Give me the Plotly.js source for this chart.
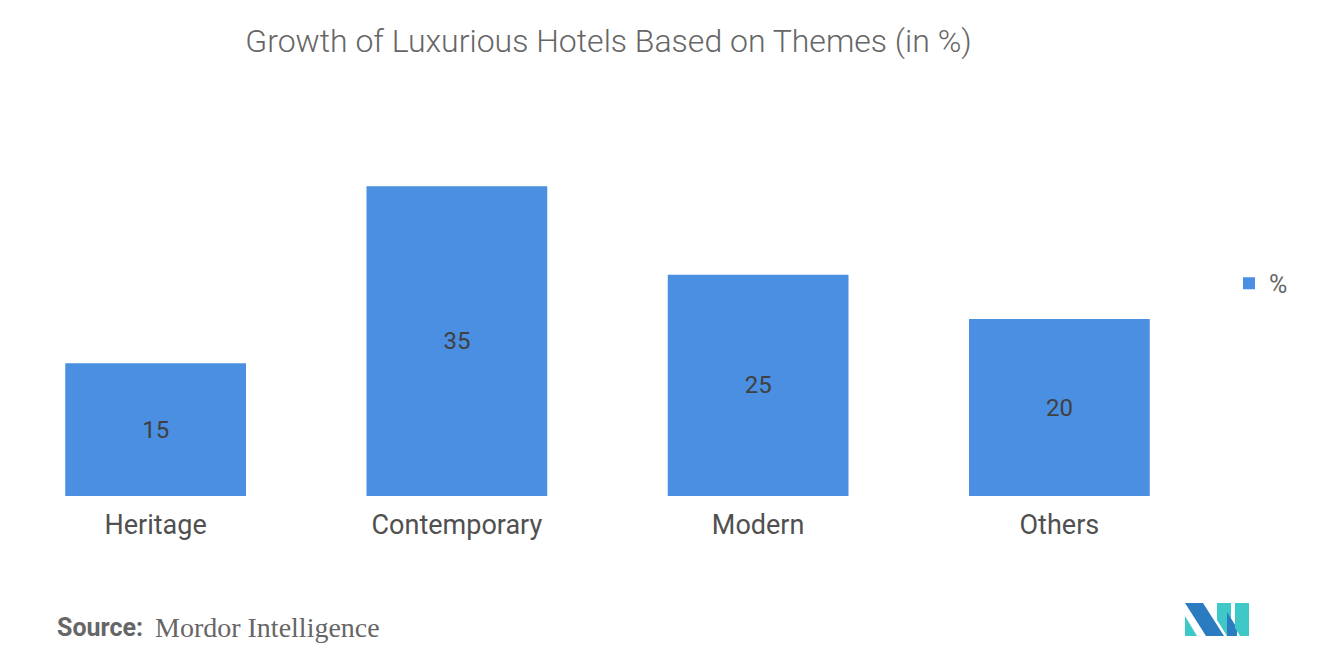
<!DOCTYPE html>
<html>
<head>
<meta charset="utf-8">
<script src="https://cdn.plot.ly/plotly-3.0.1.min.js"></script>
<style>html,body{margin:0;padding:0;background:#fff;}#chart{width:1320px;height:665px;}</style>
</head>
<body>
<div id="chart"></div>
<script>
const categories = ["Heritage", "Contemporary", "Modern", "Others"];
const values = [15, 35, 25, 20];
const seriesName = "%";
const titleText = "Growth of Luxurious Hotels Based on Themes (in %)";
const sourceLabel = "Source:";
const sourceName = "Mordor Intelligence";

const W = 1320, H = 665;
const M = {l: 5, r: 110, t: 142, b: 169};
const pw = W - M.l - M.r, ph = H - M.t - M.b;
const px = x => (x - M.l) / pw;
const py = y => (H - M.b - y) / ph;
function poly(pts, color) {
  const d = pts.map((p, i) => (i ? "L" : "M") + px(p[0]).toFixed(5) + "," + py(p[1]).toFixed(5)).join(" ") + " Z";
  return {type: "path", xref: "paper", yref: "paper", path: d, fillcolor: color, line: {width: 0}};
}
const teal = "#3fc8c8", navy = "#2b7bc0";
const shapes = [
  poly([[1185,603],[1203,603],[1224,636],[1206,636],[1185,603]], navy),
  poly([[1185,616],[1197,636],[1185,636]], teal),
  poly([[1217,603],[1231,603],[1231,636],[1227,636],[1217,620]], teal),
  poly([[1227,612],[1237,628],[1237,636],[1227,636]], navy),
  poly([[1235,603],[1249,603],[1249,636],[1240,636],[1235,628]], teal)
];

const trace = {
  type: "bar",
  x: categories,
  y: values,
  name: seriesName,
  text: values.map(String),
  textposition: "inside",
  insidetextanchor: "middle",
  textfont: {family: "Roboto, Arial, sans-serif", size: 24, color: "#404040"},
  marker: {color: "#4a8fe1"},
  showlegend: true,
  hoverinfo: "x+y"
};

const layout = {
  width: W, height: H,
  margin: M,
  paper_bgcolor: "#fff", plot_bgcolor: "#fff",
  bargap: 0.4,
  title: {text: titleText, x: 0.461, xanchor: "center", y: 0.938, yanchor: "middle",
          font: {family: "Roboto, Arial, sans-serif", size: 32, weight: 300, color: "#666"}},
  xaxis: {showgrid: false, zeroline: false, showline: false, ticks: "", ticklabelstandoff: 10,
          tickfont: {family: "Roboto, Arial, sans-serif", size: 27, color: "#505050"}},
  yaxis: {range: [0, 40], visible: false, showgrid: false, zeroline: false},
  showlegend: true,
  legend: {x: px(1229), xanchor: "left", y: 0.6, yanchor: "middle",
           font: {family: "Roboto, Arial, sans-serif", size: 25, color: "#666"},
           bgcolor: "rgba(0,0,0,0)"},
  shapes: shapes,
  annotations: [
    {xref: "paper", yref: "paper", x: px(55), y: py(627), xanchor: "left", yanchor: "middle",
     showarrow: false, text: "<b>" + sourceLabel + "</b>",
     font: {family: "Roboto, Arial, sans-serif", size: 25, color: "#666"}},
    {xref: "paper", yref: "paper", x: px(153), y: py(627), xanchor: "left", yanchor: "middle",
     showarrow: false, text: sourceName,
     font: {family: "Liberation Serif, Times New Roman, serif", size: 28, color: "#666"}}
  ]
};

Plotly.newPlot("chart", [trace], layout, {displayModeBar: false, staticPlot: true});
</script>
</body>
</html>
